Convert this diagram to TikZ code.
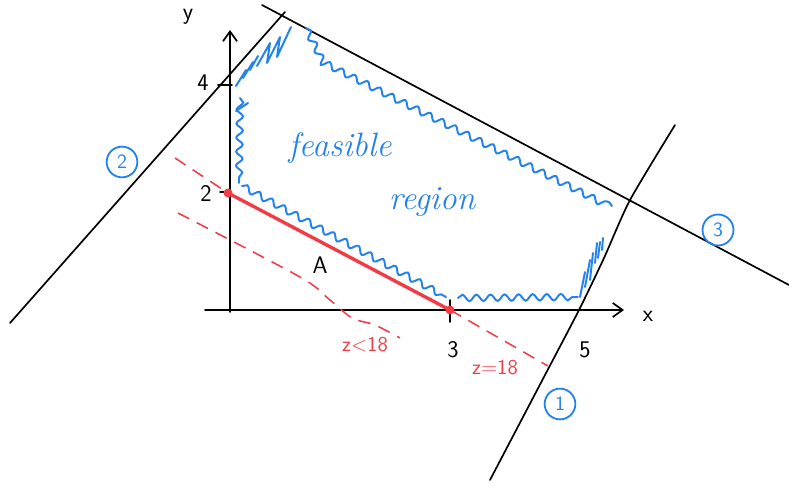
\documentclass[tikz,border=0pt]{standalone}
\usepackage{tikz}
\usetikzlibrary{arrows.meta,decorations.pathmorphing}
\usepackage{xcolor}
\definecolor{SketchBlue}{RGB}{35,130,235}
\definecolor{SketchRed}{RGB}{240,60,70}

\begin{document}
\begin{tikzpicture}[
x=0.025cm,y=-0.025cm,
pen/.style={line width=1.2pt,black,line cap=round},
axis/.style={pen,-{Straight Barb[length=7pt,width=10pt]}},
wavy/.style={line width=1.4pt,SketchBlue,line cap=round,
decorate,decoration={snake,amplitude=2.3pt,segment length=10pt}},
hatch/.style={line width=1.4pt,SketchBlue,line cap=round,line join=round},
zline/.style={line width=1.1pt,SketchRed,dash pattern=on 9pt off 6pt},
num/.style={font=\sffamily\fontsize{17}{20}\selectfont},
circled/.style={draw=SketchBlue,text=SketchBlue,line width=1.3pt,circle,
inner sep=3.5pt,font=\sffamily\Large},
hand/.style={text=SketchBlue,font=\itshape\fontsize{24}{28}\selectfont},
zlabel/.style={text=SketchRed,font=\sffamily\fontsize{15}{18}\selectfont}
]
\useasboundingbox (0,0) rectangle (789,492);

% corner points of the region
\coordinate (O) at (230,310);
\coordinate (P2) at (228,193);
\coordinate (P3) at (450,310);
\coordinate (P5) at (579,310);

% constraint lines
\draw[pen] (10,323) -- (285,12);
\draw[pen] (262,5) -- (789,285);
\draw[pen] plot[smooth,tension=0.4] coordinates {(490,480) (545,375)
  (P5) (604,258) (630,200) (675,125)};

% axes
\draw[axis] (205,310) -- (624,310);
\draw[axis] (230,312) -- (230,30);
\draw[pen] (218,85) -- (232,85);
\draw[pen] (220,192) -- (230,192);
\draw[pen] (450,300) -- (450,322);

% objective lines
\draw[zline] (175,158) -- (P2);
\draw[zline] (P3) -- (548,366);
\draw[zline] plot[smooth] coordinates {(178,213) (300,277) (330,300) (352,318) (375,325) (400,338)};
\draw[pen] (P2) -- (P3);
\draw[line width=2.4pt,SketchRed,line cap=round] (P2) -- (P3);
\fill[SketchRed] (P2) circle (4.5);
\fill[SketchRed] (P3) circle (4.5);

% feasible region boundary
\draw[wavy] (240,98) -- (239,183);
\draw[wavy] (242,186) -- (446,297);
\draw[wavy] (458,298) -- (578,297);
\draw[wavy] (306,28) -- (322,60) -- (612,206);
\draw[hatch] (236,86) -- (246,70);
\draw[hatch] (243,78) -- (253,62);
\draw[hatch] (250,70) -- (258,56);
\draw[hatch] (257,66) -- (270,43) -- (267,63) -- (280,37) -- (277,57) -- (291,27);
\draw[hatch] (236,111) -- (248,103);
\foreach \a/\b/\c/\d in {580/297/585/272, 585/287/590/260, 590/280/593/253,
  595/263/597/243, 598/258/600/242, 602/250/603/238}
  \draw[hatch] (\a,\b) -- (\c,\d);

% labels
\node[num] (ly) at (188,17) {y};
\node[num] (lx) at (648,316) {x};
\node[num] (l4) at (203,83) {4};
\node[num] (l2) at (206,193) {2};
\node[num] (l3) at (453,350) {3};
\node[num] (l5) at (585,350) {5};
\node[num] (lA) at (320,265) {A};
\node[circled] (c1) at (560,404) {1};
\node[circled] (c2) at (122,162) {2};
\node[circled] (c3) at (718,230) {3};
\node[hand] (feas) at (340,148) {feasible};
\node[hand] (reg) at (432,202) {region};
\node[zlabel] (zlt) at (365,345) {z<18};
\node[zlabel] (zeq) at (495,368) {z=18};
\end{tikzpicture}
\end{document}
